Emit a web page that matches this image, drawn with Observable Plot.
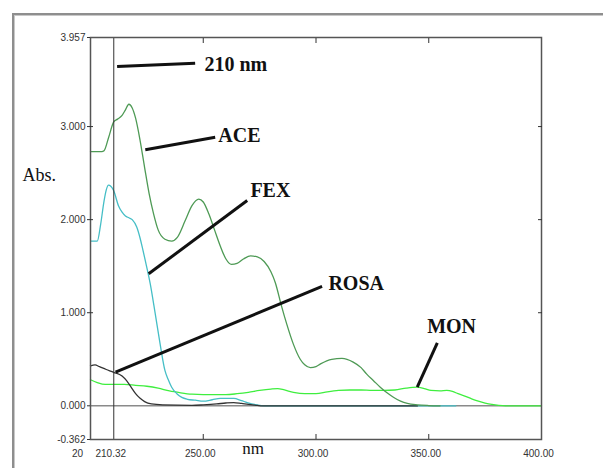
<!DOCTYPE html>
<html><head><meta charset="utf-8">
<script src="https://cdn.jsdelivr.net/npm/d3@7"></script>
<script src="https://cdn.jsdelivr.net/npm/@observablehq/plot@0.6"></script>
<style>
html,body{margin:0;padding:0;background:#fff;}
#wrap{position:relative;width:603px;height:468px;overflow:hidden;}
#border{position:absolute;left:12px;top:13px;width:600px;height:470px;border-left:2px solid #8e8e8e;border-top:2px solid #8e8e8e;box-shadow:inset 1px 1px 0 #c8c8c8;pointer-events:none;}
svg{position:absolute;left:0;top:0;}
</style></head><body>
<div id="wrap"><div id="border"></div></div>
<script>
// ---- data (wavelength nm, absorbance) ----
const aceNm  = [200,205,206,208,210.3,212,214,215.5,217,218.5,220,222,224,226,228,230,233,236,238.5,242,245,248,250,252.5,255,257.5,260,262.5,265,268,271,274,277,280,282,284.5,287,290,293,295,297.5,300,302,307,311.5,316.5,320,322.5,325.5,328.5,331.5,334.5,337.5,340.5,345,350,355];
const aceAbs = [2.73,2.73,2.74,2.88,3.05,3.08,3.12,3.18,3.24,3.20,3.09,2.85,2.56,2.28,2.06,1.89,1.79,1.77,1.81,1.99,2.15,2.22,2.19,2.06,1.89,1.72,1.58,1.52,1.53,1.58,1.61,1.60,1.55,1.44,1.32,1.09,0.88,0.66,0.50,0.44,0.41,0.42,0.45,0.50,0.51,0.47,0.41,0.34,0.27,0.20,0.14,0.09,0.05,0.025,0.01,0.003,0];

const fexNm  = [200,203,204.5,206,207,208,209,210.3,212.4,214,215.5,217,218.5,220.5,222,223,224.3,226.5,228.7,230.9,233,234.5,236,238.3,240.5,243,246.5,250,254,257.5,263.5,267,269.5,273.8,277,362];
const fexAbs = [1.77,1.77,1.95,2.20,2.32,2.37,2.36,2.31,2.15,2.08,2.04,2.02,2.00,1.92,1.80,1.70,1.56,1.31,0.99,0.66,0.38,0.28,0.20,0.13,0.09,0.07,0.06,0.05,0.065,0.08,0.08,0.055,0.035,0.01,0,0];

const rosaNm  = [200,202,204,207,210.3,214,216,218,220,222,224,227,232,245,250,256,260,263.5,267,270,274,276,345];
const rosaAbs = [0.43,0.44,0.42,0.39,0.36,0.32,0.27,0.20,0.13,0.08,0.045,0.02,0.01,0.005,0.01,0.02,0.03,0.035,0.025,0.015,0.005,0,0];

const monNm  = [200,203,206.5,210,215,220,225,230,235,240,245,250,255,260,265,270,275,280,283,286,290,295,300,305,310,315,320,325,330,335,340,344.8,348,351,355,358,360.5,363,366,369,372,375,378,381,384,400];
const monAbs = [0.28,0.25,0.23,0.23,0.23,0.22,0.21,0.19,0.16,0.14,0.125,0.12,0.12,0.12,0.13,0.145,0.165,0.18,0.185,0.17,0.145,0.13,0.13,0.15,0.165,0.17,0.17,0.165,0.165,0.17,0.19,0.20,0.185,0.165,0.16,0.165,0.155,0.13,0.105,0.075,0.05,0.03,0.015,0.005,0,0];

// axis ticks
const yTicks = [3.957, 3, 2, 1, 0, -0.362];
const xTickValues = [210.32, 250, 300, 350, 400];
const xInnerTicks = [250, 300, 350];
const xFirstLabel = "20";
const markerNm = 210.32;

// annotations: label, leader-line start (nm, abs), end (nm, abs), text anchor (nm, abs)
const annLabels = ["210 nm", "ACE", "FEX", "ROSA", "MON"];
const annX1 = [211.8, 224.3, 225.8, 211.1, 344.9];
const annY1 = [3.645, 2.750, 1.418, 0.361, 0.200];
const annX2 = [246.4, 255.3, 269.5, 302.7, 353.8];
const annY2 = [3.680, 2.886, 2.206, 1.282, 0.677];
const annTx = [250.5, 256.7, 270.9, 305.5, 349.3];
const annTy = [3.671, 2.898, 2.310, 1.318, 0.846];

const rows = (nm, ab) => nm.map((x, i) => ({nm: x, abs: ab[i]}));
const ann = annLabels.map((t, i) => ({t, x1: annX1[i], y1: annY1[i], x2: annX2[i], y2: annY2[i], tx: annTx[i], ty: annTy[i]}));

const sansFont = "'Liberation Sans', Arial, sans-serif";
const serifFont = "'Liberation Serif', 'Times New Roman', serif";

const chart = Plot.plot({
  width: 603, height: 468,
  marginLeft: 90, marginRight: 62, marginTop: 37, marginBottom: 29,
  x: {domain: [200, 400], label: null},
  y: {domain: [-0.362, 3.957], label: null},
  style: {fontFamily: sansFont, fontSize: "10px", color: "#333", background: "transparent", overflow: "visible"},
  marks: [
    Plot.ruleY([0], {stroke: "#8a8a8a", strokeWidth: 1.5}),
    Plot.line(rows(monNm, monAbs), {x: "nm", y: "abs", stroke: "#3fee3f", strokeWidth: 1.3, curve: "monotone-x"}),
    Plot.line(rows(fexNm, fexAbs), {x: "nm", y: "abs", stroke: "#45bec6", strokeWidth: 1.3, curve: "monotone-x"}),
    Plot.line(rows(rosaNm, rosaAbs), {x: "nm", y: "abs", stroke: "#333333", strokeWidth: 1.3, curve: "monotone-x"}),
    Plot.line(rows(aceNm, aceAbs), {x: "nm", y: "abs", stroke: "#4e9a55", strokeWidth: 1.3, curve: "monotone-x"}),
    Plot.ruleX([markerNm], {stroke: "#333", strokeWidth: 1}),
    Plot.frame({stroke: "#555", strokeWidth: 1.5}),
    // y axis: labels + outer ticks on left, inner ticks on left/right
    Plot.axisY(yTicks, {anchor: "left", tickSize: 3, tickPadding: 2, tickFormat: d => d.toFixed(3), fill: "#333", fontSize: 10}),
    Plot.axisY([3, 2, 1], {anchor: "left", tickSize: -3, tickFormat: () => ""}),
    Plot.axisY([3, 2, 1], {anchor: "right", tickSize: -4, tickFormat: () => ""}),
    // x axis: labels, inner ticks bottom & top
    Plot.axisX(xTickValues, {anchor: "bottom", tickSize: 0, tickPadding: 10, dx: -3, tickFormat: d => d.toFixed(2), fill: "#333", fontSize: 10}),
    Plot.axisX(xInnerTicks, {anchor: "bottom", tickSize: -5, tickFormat: () => ""}),
    Plot.axisX(xInnerTicks, {anchor: "top", tickSize: -5, tickFormat: () => ""}),
    Plot.text([xFirstLabel], {x: 200, frameAnchor: "bottom", dy: 17, dx: -13, fill: "#333", fontSize: 10}),
    // axis titles
    Plot.text(["Abs."], {frameAnchor: "left", textAnchor: "start", dx: -68, dy: -63, fontFamily: serifFont, fontSize: 18, fill: "#111"}),
    Plot.text(["nm"], {frameAnchor: "bottom", dx: -63, dy: 14, fontFamily: serifFont, fontSize: 17, fill: "#111"}),
    // annotations
    Plot.link(ann, {x1: "x1", y1: "y1", x2: "x2", y2: "y2", stroke: "#111", strokeWidth: 3}),
    Plot.text(ann, {x: "tx", y: "ty", text: "t", textAnchor: "start", fontFamily: serifFont, fontWeight: "bold", fontSize: 20, fill: "#111"})
  ]
});
document.getElementById("wrap").appendChild(chart);
</script>
</body></html>
